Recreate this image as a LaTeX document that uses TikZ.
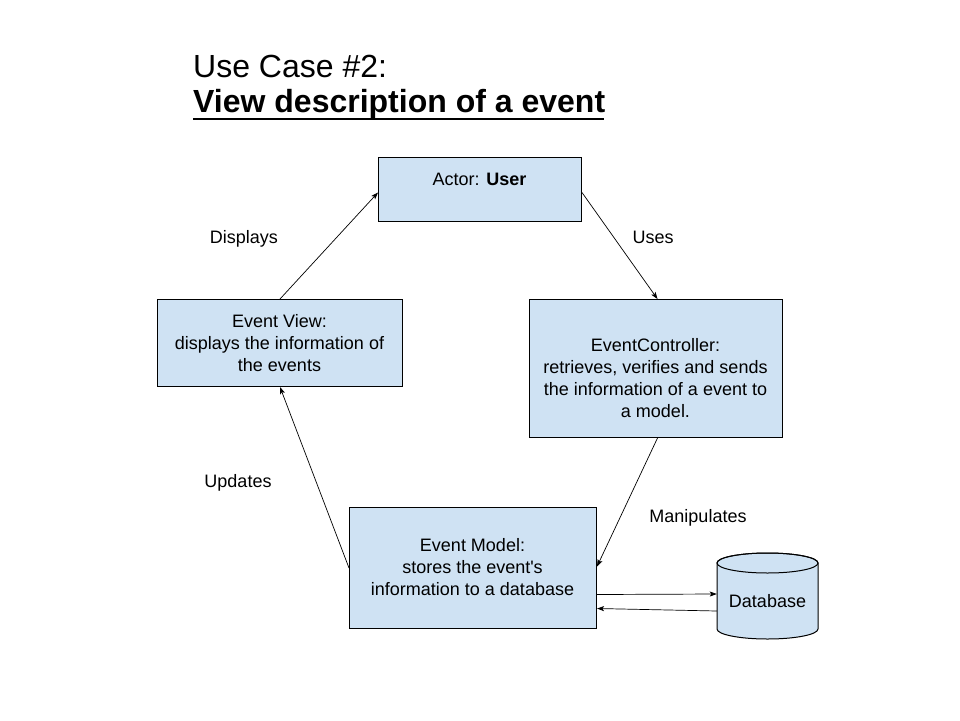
\documentclass[tikz,border=0pt]{standalone}
\usepackage{fontspec}
\setmainfont{Liberation Sans}
\usetikzlibrary{arrows.meta}
\definecolor{boxblue}{HTML}{CFE2F3}
\begin{document}
\begin{tikzpicture}[x=1pt,y=-1pt,
  box/.style={draw=black, fill=boxblue, line width=1pt, inner sep=0pt, anchor=north west},
  txt/.style={align=center, font=\fontsize{18}{22}\selectfont, inner sep=0pt},
  lbl/.style={font=\fontsize{18}{22}\selectfont, inner sep=0pt, anchor=base},
  arr/.style={-{Stealth[length=7pt,width=5pt,inset=1.5pt]}, line width=0.7pt}]
\useasboundingbox (0,0) rectangle (960,720);

% title
\node[anchor=base west, inner sep=0pt, font=\fontsize{32}{36}\selectfont] (t1) at (193,77) {Use Case \#2:};
\node[anchor=base west, inner sep=0pt, font=\fontsize{32}{36}\selectfont\bfseries] (t2) at (193,112) {View description of a event};
\draw[line width=2.5pt] (t2.base west) ++(0,7) -- ++(411,0);

% boxes
\node[box, minimum width=203pt, minimum height=64pt] (actor) at (378,157) {};
\node[box, minimum width=245pt, minimum height=87pt] (view) at (157,299) {};
\node[box, minimum width=253pt, minimum height=138pt] (ctrl) at (529,299) {};
\node[box, minimum width=247pt, minimum height=121pt] (model) at (349,507) {};

% box texts
\node[txt] (actortxt) at (479.5,179.5) {Actor: \textbf{User}};
\node[txt] (viewtxt) at (279.5,343.5) {Event View:\\displays the information of\\the events};
\node[txt] (ctrltxt) at (655.5,378.5) {EventController:\\retrieves, verifies and sends\\the information of a event to\\a model.};
\node[txt] (modeltxt) at (472.5,567) {Event Model:\\stores the event\textquotesingle s\\information to a database};

% database cylinder
\draw[fill=boxblue, line width=1pt] (717,563) -- (717,629)
  arc[start angle=180, end angle=360, x radius=50.5pt, y radius=10pt]
  -- (818,563)
  arc[start angle=0, end angle=180, x radius=50.5pt, y radius=10pt] -- cycle;
\draw[line width=1pt] (767.5,563) ellipse [x radius=50.5pt, y radius=10pt];
\node[txt, minimum width=101pt, minimum height=86pt] (db) at (767.5,601) {Database};

% connectors
\draw[arr] (view.north) -- ([yshift=-3pt]actor.west);
\draw[arr] ([yshift=-3pt]actor.east) -- ([xshift=1.5pt]ctrl.north);
\draw[arr] ([xshift=1.5pt]ctrl.south) -- ([yshift=1.5pt]model.east);
\draw[arr] (model.west) -- (view.south);
\draw[arr] ([yshift=-26.5pt]model.east) -- ([yshift=7pt]db.west);
\draw[arr] ([yshift=-10pt]db.west) -- ([yshift=-40.5pt]model.east);

% connector labels
\node[lbl] (ldisp) at (244,243) {Displays};
\node[lbl] (luses) at (653,243) {Uses};
\node[lbl] (lupd) at (238,487) {Updates};
\node[lbl] (lman) at (698,522) {Manipulates};
\end{tikzpicture}
\end{document}
